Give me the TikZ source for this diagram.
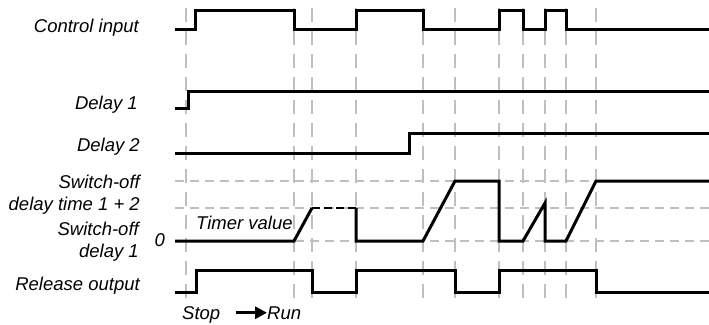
\documentclass[tikz,border=0pt]{standalone}
\usepackage{fontspec}
\setmainfont{Liberation Sans}
\usetikzlibrary{arrows.meta}
\begin{document}
\begin{tikzpicture}[
    x=1pt, y=-1pt,
    every node/.style={font=\fontsize{18.5}{22}\selectfont\itshape, inner sep=0pt},
    siglabel/.style={anchor=base east, align=right},
    signal/.style={line width=3pt},
    timegrid/.style={gray!50, line width=1.3pt, dash pattern=on 14pt off 9pt},
    levelgrid/.style={gray!50, line width=1.3pt, dash pattern=on 9pt off 6pt},
    runarrow/.style={line width=3.5pt, -{Triangle[length=12pt,width=12pt]}}
]
\useasboundingbox (0,0) rectangle (709,324);

% time marks and timer levels
\foreach \t in {186,294,312,356,423,455,499,523,545,566,596}
    \draw[timegrid] (\t,8) -- (\t,298);
\foreach \l in {181,208,241}
    \draw[levelgrid] (175,\l) -- (709,\l);

% signal names (base = last line)
\node[siglabel] (ctrl) at (139,32) {Control input};
\node[siglabel] (dlyone) at (138,109) {Delay 1};
\node[siglabel] (dlytwo) at (140,151) {Delay 2};
\node[siglabel] (offboth) at (140,210) {Switch-off\\delay time 1 + 2};
\node[siglabel] (offone) at (139,257) {Switch-off\\delay 1};
\node[siglabel] (release) at (140,290) {Release output};
\node[anchor=base east] (zero) at (165,246) {0};
\node[anchor=base west] (timer) at (196,229) {Timer value};

% waveforms
\draw[signal] (175,29) -| (195,10) -| (294,29) -| (356,10) -| (423,29)
    -| (499,10) -| (523,29) -| (545,10) -| (566,29) -- (709,29);
\draw[signal] (175,108) -| (188,91) -- (709,91);
\draw[signal] (175,153) -| (409,133) -- (709,133);
\draw[signal] (175,241) -- (294,241) -- (312,208);
\draw[line width=2pt, dash pattern=on 8pt off 4pt] (312,208) -- (356,208);
\draw[signal] (356,208) -- (356,241) -- (423,241) -- (455,181) -- (499,181)
    -- (499,241) -- (523,241) -- (545,203) -- (545,241) -- (566,241)
    -- (596,181) -- (709,181);
\draw[signal] (175,292) -| (196,270) -| (312,292) -| (356,270) -| (455,292)
    -| (499,270) -| (596,292) -- (709,292);

% mode change
\node[anchor=base west] (stop) at (182,319) {Stop};
\node[anchor=base west] (run) at (267,319) {Run};
\draw[runarrow, shorten <=16pt] (stop.east |- run.west) -- (run.west);
\end{tikzpicture}
\end{document}
